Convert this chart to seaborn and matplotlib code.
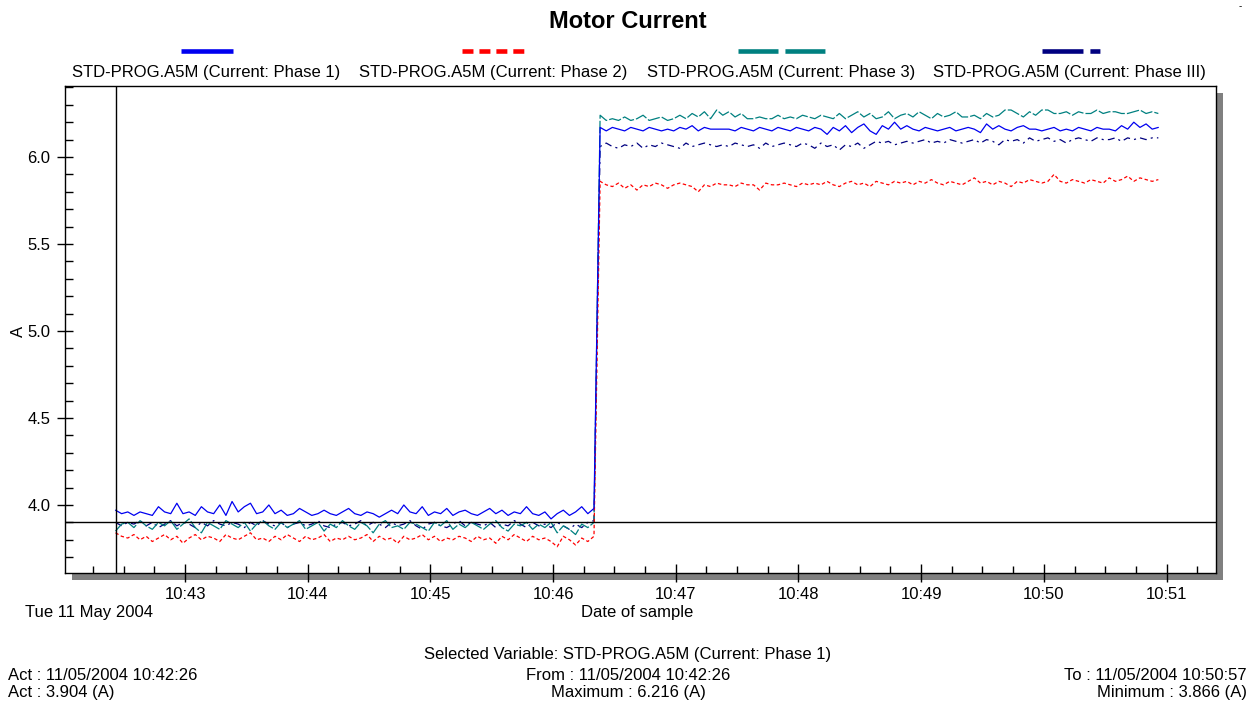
import numpy as np
import pandas as pd
import seaborn as sns
import matplotlib.pyplot as plt
import matplotlib.dates as mdates
from matplotlib.lines import Line2D
from matplotlib.patches import Rectangle

# sampled motor currents (A), one value every 3 s from 10:42:26
start_time = "2004-05-11 10:42:26"
sample_step_s = 3

phase1_low = [3.97, 3.95, 3.96, 3.94, 3.96, 3.95, 3.94, 3.99, 3.96, 3.95,
              4.01, 3.95, 3.96, 3.94, 3.99, 3.96, 3.95, 4.00, 3.94, 4.02,
              3.96, 3.99, 4.01, 3.95, 3.96, 4.00, 3.95, 3.97, 3.94, 3.95,
              3.98, 3.96, 3.94, 3.95, 3.97, 3.95, 3.94, 3.96, 3.98, 3.95,
              3.94, 3.96, 3.95, 3.93, 3.95, 3.97, 3.95, 4.00, 3.96, 3.95,
              3.99, 3.94, 3.96, 3.95, 3.98, 3.94, 3.96, 3.97, 3.95, 3.94,
              3.96, 3.98, 3.95, 3.97, 3.94, 3.96, 3.95, 3.99, 3.95, 3.94,
              3.96, 3.92, 3.95, 3.97, 3.94, 3.96, 3.99, 3.95, 3.98]
phase1_high = [6.17, 6.15, 6.17, 6.16, 6.15, 6.17, 6.16, 6.15, 6.17, 6.16,
               6.15, 6.16, 6.15, 6.17, 6.16, 6.18, 6.15, 6.17, 6.16, 6.16,
               6.16, 6.16, 6.15, 6.17, 6.16, 6.15, 6.17, 6.16, 6.15, 6.17,
               6.16, 6.15, 6.17, 6.16, 6.15, 6.17, 6.16, 6.13, 6.17, 6.15,
               6.18, 6.14, 6.17, 6.19, 6.15, 6.13, 6.18, 6.16, 6.20, 6.16,
               6.18, 6.16, 6.15, 6.17, 6.16, 6.15, 6.16, 6.17, 6.15, 6.16,
               6.17, 6.16, 6.14, 6.19, 6.16, 6.18, 6.16, 6.15, 6.17, 6.18,
               6.16, 6.16, 6.15, 6.16, 6.17, 6.15, 6.16, 6.15, 6.17, 6.16,
               6.15, 6.17, 6.16, 6.16, 6.15, 6.18, 6.16, 6.20, 6.17, 6.19,
               6.16, 6.17]

phase2_low = [3.84, 3.82, 3.81, 3.83, 3.80, 3.82, 3.79, 3.81, 3.83, 3.80,
              3.82, 3.78, 3.81, 3.83, 3.80, 3.82, 3.81, 3.79, 3.83, 3.81,
              3.80, 3.82, 3.84, 3.80, 3.81, 3.79, 3.82, 3.80, 3.83, 3.81,
              3.79, 3.82, 3.80, 3.81, 3.83, 3.79, 3.81, 3.80, 3.82, 3.80,
              3.81, 3.83, 3.79, 3.82, 3.80, 3.81, 3.78, 3.82, 3.80, 3.81,
              3.83, 3.80, 3.82, 3.79, 3.81, 3.80, 3.82, 3.81, 3.79, 3.82,
              3.80, 3.81, 3.78, 3.82, 3.80, 3.83, 3.81, 3.79, 3.82, 3.80,
              3.81, 3.79, 3.76, 3.82, 3.80, 3.77, 3.81, 3.79, 3.82]
phase2_high = [5.86, 5.84, 5.83, 5.85, 5.82, 5.84, 5.81, 5.84, 5.83, 5.85,
               5.84, 5.82, 5.84, 5.85, 5.84, 5.83, 5.80, 5.84, 5.83, 5.85,
               5.84, 5.84, 5.83, 5.85, 5.84, 5.84, 5.81, 5.85, 5.84, 5.84,
               5.85, 5.84, 5.83, 5.85, 5.84, 5.85, 5.84, 5.86, 5.84, 5.83,
               5.85, 5.86, 5.84, 5.85, 5.83, 5.86, 5.85, 5.84, 5.86, 5.85,
               5.86, 5.84, 5.86, 5.85, 5.87, 5.85, 5.84, 5.86, 5.85, 5.84,
               5.86, 5.88, 5.85, 5.86, 5.84, 5.86, 5.85, 5.83, 5.86, 5.85,
               5.87, 5.86, 5.85, 5.86, 5.90, 5.86, 5.85, 5.87, 5.86, 5.85,
               5.87, 5.86, 5.85, 5.88, 5.86, 5.87, 5.89, 5.86, 5.88, 5.87,
               5.86, 5.87]

phase3_low = [3.85, 3.89, 3.90, 3.87, 3.91, 3.88, 3.86, 3.90, 3.88, 3.91,
              3.86, 3.89, 3.92, 3.87, 3.84, 3.90, 3.88, 3.86, 3.91, 3.89,
              3.87, 3.90, 3.85, 3.89, 3.91, 3.88, 3.86, 3.90, 3.87, 3.89,
              3.91, 3.86, 3.88, 3.90, 3.85, 3.89, 3.87, 3.91, 3.88, 3.86,
              3.90, 3.88, 3.84, 3.89, 3.91, 3.87, 3.88, 3.86, 3.90, 3.89,
              3.87, 3.85, 3.90, 3.88, 3.91, 3.86, 3.89, 3.87, 3.90, 3.88,
              3.86, 3.89, 3.91, 3.87, 3.85, 3.89, 3.88, 3.90, 3.86, 3.89,
              3.87, 3.90, 3.84, 3.88, 3.86, 3.83, 3.89, 3.87, 3.90]
phase3_high = [6.24, 6.21, 6.22, 6.21, 6.23, 6.21, 6.22, 6.24, 6.21, 6.22,
               6.23, 6.21, 6.22, 6.24, 6.22, 6.25, 6.23, 6.26, 6.22, 6.27,
               6.24, 6.26, 6.23, 6.25, 6.22, 6.22, 6.23, 6.22, 6.22, 6.24,
               6.22, 6.23, 6.22, 6.24, 6.23, 6.22, 6.24, 6.23, 6.22, 6.25,
               6.22, 6.24, 6.26, 6.23, 6.25, 6.22, 6.23, 6.26, 6.22, 6.24,
               6.25, 6.23, 6.26, 6.24, 6.22, 6.25, 6.23, 6.24, 6.26, 6.23,
               6.23, 6.24, 6.22, 6.25, 6.23, 6.24, 6.27, 6.27, 6.25, 6.23,
               6.26, 6.24, 6.27, 6.27, 6.25, 6.25, 6.26, 6.24, 6.26, 6.25,
               6.25, 6.27, 6.25, 6.26, 6.26, 6.25, 6.25, 6.26, 6.27, 6.25,
               6.26, 6.25]

phaseIII_low = [3.90, 3.88, 3.90, 3.89, 3.91, 3.88, 3.90, 3.87, 3.89, 3.91,
                3.88, 3.90, 3.89, 3.87, 3.90, 3.88, 3.91, 3.89, 3.88, 3.90,
                3.89, 3.87, 3.90, 3.88, 3.91, 3.89, 3.88, 3.90, 3.87, 3.89,
                3.90, 3.88, 3.89, 3.91, 3.88, 3.87, 3.89, 3.90, 3.88, 3.89,
                3.91, 3.88, 3.90, 3.89, 3.87, 3.90, 3.88, 3.89, 3.91, 3.88,
                3.86, 3.89, 3.90, 3.88, 3.87, 3.89, 3.91, 3.88, 3.90, 3.89,
                3.88, 3.90, 3.87, 3.89, 3.88, 3.91, 3.89, 3.87, 3.90, 3.88,
                3.89, 3.87, 3.90, 3.88, 3.86, 3.89, 3.87, 3.90, 3.91]
phaseIII_high = [6.06, 6.08, 6.06, 6.05, 6.07, 6.06, 6.08, 6.05, 6.07, 6.06,
                 6.08, 6.07, 6.06, 6.05, 6.08, 6.06, 6.07, 6.08, 6.07, 6.06,
                 6.07, 6.06, 6.08, 6.07, 6.06, 6.07, 6.05, 6.08, 6.06, 6.07,
                 6.08, 6.07, 6.06, 6.08, 6.07, 6.05, 6.08, 6.06, 6.07, 6.04,
                 6.07, 6.06, 6.08, 6.05, 6.07, 6.09, 6.08, 6.09, 6.07, 6.08,
                 6.09, 6.08, 6.09, 6.10, 6.08, 6.09, 6.08, 6.10, 6.09, 6.08,
                 6.09, 6.10, 6.08, 6.10, 6.09, 6.07, 6.10, 6.09, 6.10, 6.08,
                 6.11, 6.09, 6.10, 6.11, 6.09, 6.10, 6.08, 6.10, 6.11, 6.10,
                 6.09, 6.11, 6.10, 6.10, 6.11, 6.09, 6.11, 6.10, 6.11, 6.10,
                 6.11, 6.11]

labels = ["STD-PROG.A5M (Current: Phase 1)", "STD-PROG.A5M (Current: Phase 2)",
          "STD-PROG.A5M (Current: Phase 3)", "STD-PROG.A5M (Current: Phase III)"]
colors = ["#0000F0", "#FF0000", "#008080", "#000080"]

act_time = "2004-05-11 10:42:26"
act_value = 3.904

W, H = 1249, 702


def px(x, y):
    return x / W, 1 - y / H


def main():
    sns.set_theme(style="white")
    plt.rcParams["font.family"] = ["Liberation Sans", "DejaVu Sans"]
    plt.rcParams["lines.scale_dashes"] = False
    plt.rcParams.update({"text.color": "black", "axes.labelcolor": "black",
                         "xtick.color": "black", "ytick.color": "black"})

    series = [phase1_low + phase1_high, phase2_low + phase2_high,
              phase3_low + phase3_high, phaseIII_low + phaseIII_high]
    t0 = pd.Timestamp(start_time)
    frames = []
    for lab, vals in zip(labels, series):
        t = t0 + pd.to_timedelta(np.arange(len(vals)) * sample_step_s, unit="s")
        frames.append(pd.DataFrame({"time": t, "value": vals, "series": lab}))
    df = pd.concat(frames, ignore_index=True)

    fig = plt.figure(figsize=(W / 100, H / 100), dpi=100)
    fig.patch.set_facecolor("white")

    # grey drop shadow behind the plot frame
    x0, y0 = px(72, 580)
    fig.add_artist(Rectangle((x0, y0), 1151 / W, 487 / H, transform=fig.transFigure,
                             facecolor="#808080", edgecolor="none", zorder=-1))

    l, b = px(65, 573)
    ax = fig.add_axes([l, b, 1151 / W, 487 / H])
    ax.set_facecolor("white")

    dashes = {labels[0]: "", labels[1]: (2.5, 1.8), labels[2]: (9, 1.5), labels[3]: (5, 3, 1.5, 3)}
    sns.lineplot(data=df, x="time", y="value", hue="series", style="series",
                 palette=dict(zip(labels, colors)), dashes=dashes,
                 hue_order=labels[::-1], style_order=labels[::-1],
                 linewidth=0.9, legend=False, ax=ax)

    ax.axhline(act_value, color="black", lw=1, zorder=5)
    ax.axvline(pd.Timestamp(act_time), color="black", lw=1, zorder=5)

    ax.set_ylim(3.609, 6.408)
    ax.set_xlim(pd.Timestamp("2004-05-11 10:42:01.3"), pd.Timestamp("2004-05-11 10:51:24.2"))
    ax.set_yticks([4.0, 4.5, 5.0, 5.5, 6.0])
    ax.set_yticks(np.arange(3.7, 6.41, 0.1), minor=True)
    ax.yaxis.set_major_formatter(plt.FormatStrFormatter("%.1f"))
    ax.xaxis.set_major_locator(mdates.MinuteLocator())
    ax.xaxis.set_minor_locator(mdates.SecondLocator(bysecond=[15, 30, 45]))
    ax.xaxis.set_major_formatter(mdates.DateFormatter("%H:%M"))

    for s in ax.spines.values():
        s.set_color("black")
        s.set_linewidth(1)
    ax.tick_params(axis="x", which="major", direction="inout", length=13, width=1,
                   color="black", labelcolor="black", labelsize=12, pad=3.5, bottom=True)
    ax.tick_params(axis="x", which="minor", direction="in", length=5, width=1,
                   color="black", bottom=True)
    ax.tick_params(axis="y", which="major", direction="inout", length=11, width=1,
                   color="black", labelcolor="black", labelsize=12, pad=5, left=True)
    ax.tick_params(axis="y", which="minor", direction="in", length=5.8, width=1,
                   color="black", left=True)
    ax.set_xlabel("")
    ax.set_ylabel("")

    # title and header legend
    fig.text(*px(628, 22), "Motor Current", ha="center", va="center",
             fontsize=17, fontweight="bold", color="black")
    fig.text(*px(1240, 6), "-", ha="center", va="center", fontsize=7)
    centers = [206, 493, 781, 1069]
    samples = [(181, 233, None), (462, 524, (7.9, 4.3)),
               (738, 827, (28.8, 5.0)), (1042, 1100, (29.5, 5.0, 7.2, 60))]
    for lab, col, cx, (sx0, sx1, dsh) in zip(labels, colors, centers, samples):
        fig.text(*px(cx, 72), lab, ha="center", va="center", fontsize=12)
        xa, ya = px(sx0, 51)
        xb, _ = px(sx1, 51)
        ln = Line2D([xa, xb], [ya, ya], transform=fig.transFigure, color=col,
                    lw=3.3, solid_capstyle="butt", dash_capstyle="butt")
        if dsh:
            ln.set_dashes(dsh)
        fig.add_artist(ln)

    # axis captions and footer
    fig.text(*px(18, 331), "A", ha="center", va="center", rotation=90, fontsize=12)
    fig.text(*px(25, 613), "Tue 11 May 2004", ha="left", va="center", fontsize=12)
    fig.text(*px(637, 613), "Date of sample", ha="center", va="center", fontsize=12)
    fig.text(*px(628, 655), "Selected Variable: STD-PROG.A5M (Current: Phase 1)",
             ha="center", va="center", fontsize=12)
    fig.text(*px(8, 675), "Act : 11/05/2004 10:42:26", ha="left", va="center", fontsize=12)
    fig.text(*px(628, 675), "From : 11/05/2004 10:42:26", ha="center", va="center", fontsize=12)
    fig.text(*px(1247, 675), "To : 11/05/2004 10:50:57", ha="right", va="center", fontsize=12)
    fig.text(*px(8, 693), "Act : 3.904 (A)", ha="left", va="center", fontsize=12)
    fig.text(*px(628, 693), "Maximum : 6.216 (A)", ha="center", va="center", fontsize=12)
    fig.text(*px(1247, 693), "Minimum : 3.866 (A)", ha="right", va="center", fontsize=12)

    fig.savefig("out.png", dpi=100, facecolor="white")


if __name__ == '__main__':
    main()
